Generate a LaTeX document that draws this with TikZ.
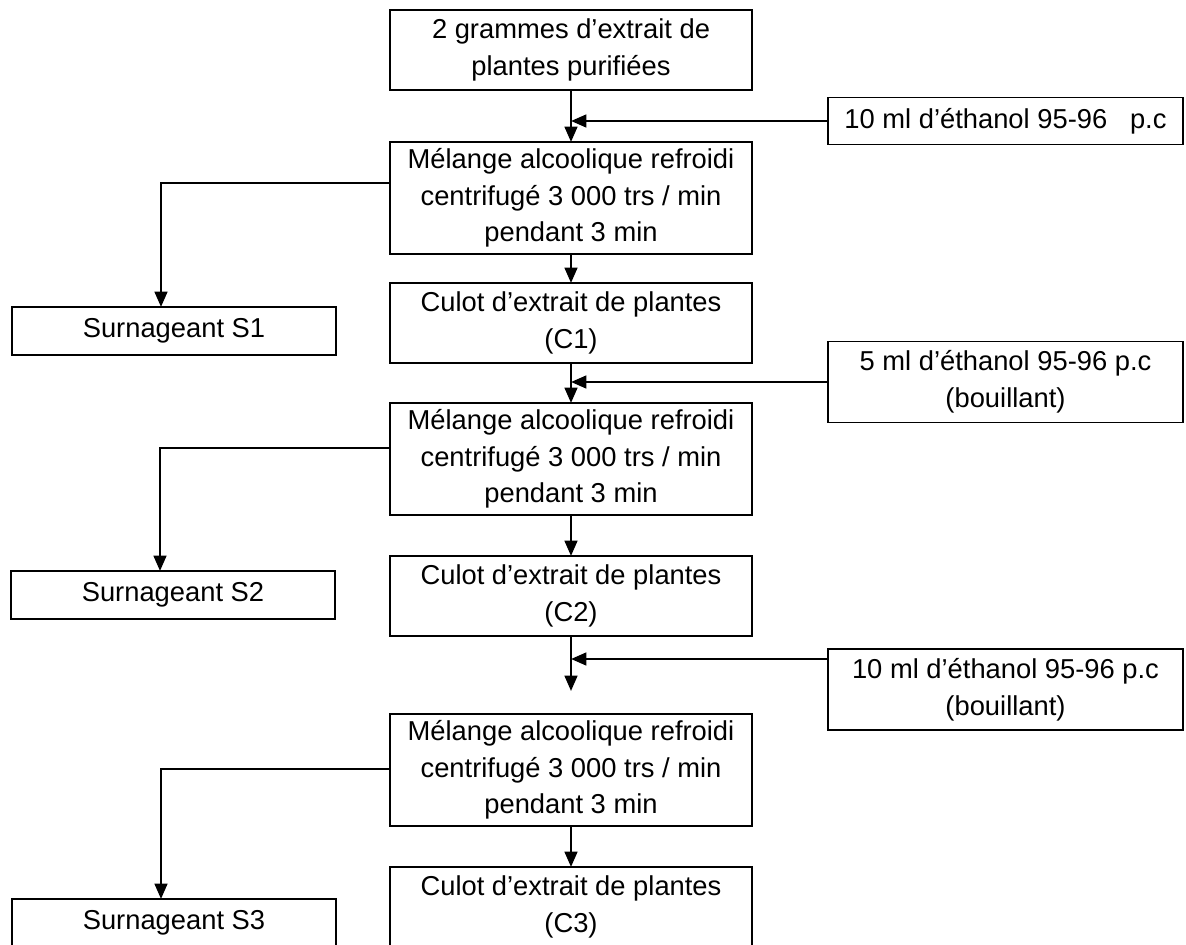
\documentclass[tikz,border=0pt]{standalone}
\usepackage{fontspec}
\setmainfont{Liberation Sans}
\usetikzlibrary{positioning, arrows.meta}

\begin{document}
\begin{tikzpicture}[
    every node/.style={align=center, font=\fontsize{20.5pt}{27.4pt}\selectfont, inner sep=0pt, outer sep=0pt},
    stepbox/.style={draw, line width=1.3pt, minimum width=271.5pt, minimum height=60pt},
    mixbox/.style={stepbox, minimum height=84pt},
    addbox/.style={draw, line width=1.3pt, minimum width=266.25pt, minimum height=60.75pt},
    surnbox/.style={draw, line width=1.3pt, minimum width=243pt, minimum height=36pt},
    arrow/.style={-{Triangle[length=11.5pt, width=9.5pt]}, line width=1.8pt}
]
\useasboundingbox (0,0) rectangle (889.5pt,-708.75pt);

% Main column
\node[stepbox, anchor=north] (start) at (428.25pt,-7.5pt) {2 grammes d’extrait de\\plantes purifiées};
\node[mixbox, below=39pt of start] (mix1) {Mélange alcoolique refroidi\\centrifugé 3 000 trs / min\\pendant 3 min};
\node[stepbox, below=21.75pt of mix1] (culot1) {Culot d’extrait de plantes\\(C1)};
\node[mixbox, below=30pt of culot1] (mix2) {Mélange alcoolique refroidi\\centrifugé 3 000 trs / min\\pendant 3 min};
\node[stepbox, below=30.75pt of mix2] (culot2) {Culot d’extrait de plantes\\(C2)};
\node[mixbox, below=58.5pt of culot2] (mix3) {Mélange alcoolique refroidi\\centrifugé 3 000 trs / min\\pendant 3 min};
\node[stepbox, below=30.75pt of mix3] (culot3) {Culot d’extrait de plantes\\(C3)};

% Supernatants
\node[surnbox, below left=39.75pt and 40.5pt of mix1.south west] (surn1) {Surnageant S1};
\node[surnbox, below left=42pt and 41.25pt of mix2.south west] (surn2) {Surnageant S2};
\node[surnbox, below left=54.75pt and 40.5pt of mix3.south west] (surn3) {Surnageant S3};

% Ethanol additions
\coordinate[below=23.25pt of start.south] (j1);
\coordinate[below=14.25pt of culot1.south] (j2);
\coordinate[below=17.25pt of culot2.south] (j3);
\coordinate[below=41.25pt of culot2.south] (end3);
\node[addbox, minimum height=35.25pt, right=192.75pt of j1] (eth1) {10 ml d’éthanol 95-96~~~p.c};
\node[addbox, right=192.75pt of j2] (eth2) {5 ml d’éthanol 95-96 p.c\\(bouillant)};
\node[addbox, anchor=north west] (eth3) at ([shift={(192.75pt,7.5pt)}]j3) {10 ml d’éthanol 95-96 p.c\\(bouillant)};

% Main flow
\draw[arrow] (start) -- (mix1);
\draw[arrow] (mix1) -- (culot1);
\draw[arrow] (culot1) -- (mix2);
\draw[arrow] (mix2) -- (culot2);
\draw[arrow] (culot2) -- (end3);
\draw[arrow] (mix3) -- (culot3);

% Side additions
\draw[arrow] (eth1) -- (j1);
\draw[arrow] (eth2) -- (j2);
\draw[arrow] (j3 -| eth3.west) -- (j3);

% Supernatant branches
\draw[arrow] ([yshift=-30.75pt]mix1.north west) -| ([xshift=-9.75pt]surn1.north);
\draw[arrow] ([yshift=-33.75pt]mix2.north west) -| ([xshift=-9.75pt]surn2.north);
\draw[arrow] ([yshift=-41.25pt]mix3.north west) -| ([xshift=-9.75pt]surn3.north);

\end{tikzpicture}
\end{document}
